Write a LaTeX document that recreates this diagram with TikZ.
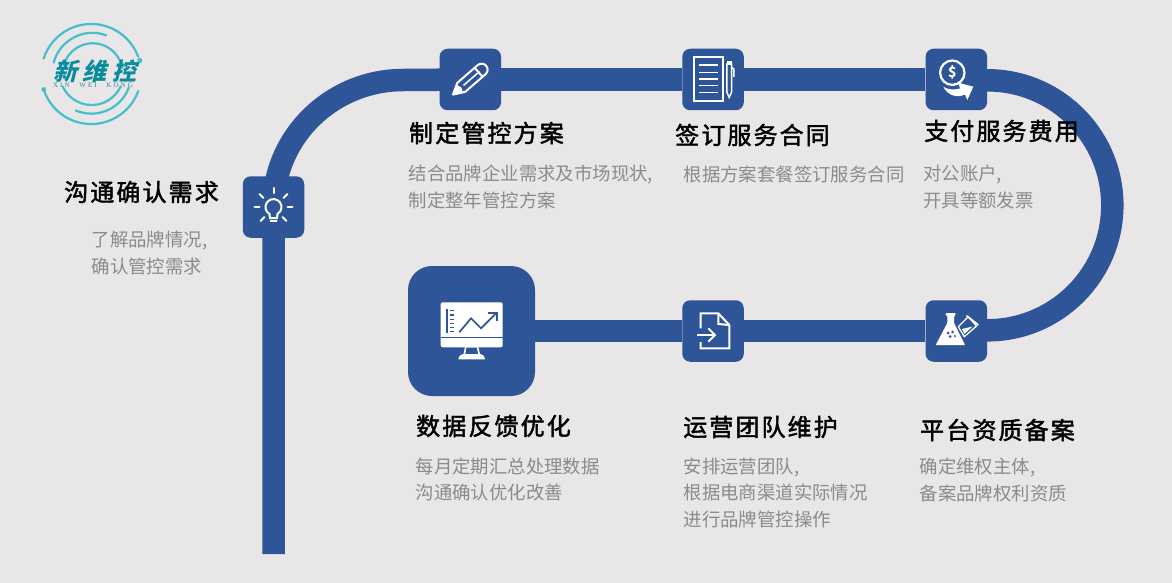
\documentclass[tikz,border=0pt]{standalone}
\usepackage{fontspec}
\usetikzlibrary{backgrounds}
\setmainfont{Noto Sans CJK SC}
\newfontfamily\headfont[LetterSpace=8.8,FakeBold=1.8]{Noto Sans CJK SC}
\newfontfamily\logofont[FakeSlant=0.25,LetterSpace=22]{Noto Sans CJK SC}
\newfontfamily\logolatin[LetterSpace=30,WordSpace=2.5]{Liberation Serif}
\definecolor{pagegray}{HTML}{E8E6E7}
\definecolor{bandblue}{HTML}{2E5597}
\definecolor{descgray}{HTML}{8B8B8B}
\definecolor{logoring}{HTML}{45BFCC}
\definecolor{logotext}{HTML}{0A8C9E}
\tikzset{
  stepbox/.style={fill=bandblue, rounded corners=8pt, minimum width=61.5pt, minimum height=61.5pt, inner sep=0pt},
  bigbox/.style={fill=bandblue, rounded corners=24pt, minimum width=127pt, minimum height=130pt, inner sep=0pt},
  band/.style={draw=bandblue, line width=22.5pt},
  headtext/.style={anchor=west, inner sep=0pt, font=\headfont\fontsize{24}{28}\selectfont},
  desctext/.style={anchor=west, inner sep=0pt, align=left, text=descgray, font=\fontsize{18.4}{26.4}\selectfont},
  iconline/.style={draw=white, line width=2pt},
  ring/.style={draw=logoring, line width=2.2pt, line cap=round},
}
\begin{document}
\begin{tikzpicture}[x=1pt,y=1pt]
\useasboundingbox (0,0) rectangle (1172,-583);
% steps
\node[stepbox] (need) at (273.5,-207) {};
\node[stepbox] (plan) at (470.3,-79.5) {};
\node[stepbox] (sign) at (713,-79.5) {};
\node[stepbox] (pay) at (956.3,-79.5) {};
\node[stepbox] (file) at (956.3,-331) {};
\node[stepbox] (run) at (713,-331) {};
\node[bigbox] (report) at (471.5,-331) {};
\coordinate (tail) at (273.5,-554);
% band behind the steps
\begin{pgfonlayer}{background}
\fill[pagegray] (0,0) rectangle (1172,-583);
\path[band] (tail) -- (need.center) arc[start angle=180, end angle=90, x radius=130, y radius=127] -- (plan.center);
\path[band] (plan) -- (sign);
\path[band] (sign) -- (pay);
\path[band] (pay.center) -- ++(31,-0.8) arc[start angle=90, end angle=-90, radius=125] -- (file.center);
\path[band] (file) -- (run);
\path[band] (run) -- (report);
\end{pgfonlayer}
% bulb
\begin{scope}[shift={(need.center)}, iconline, line cap=round]
\draw (0,19)--(0,14);
\draw (-19,0)--(-14,0);
\draw (14,0)--(19,0);
\draw (-14,13)--(-10,9);
\draw (14,13)--(10,9);
\draw (-13,-14)--(-9,-10);
\draw (13,-14)--(9,-10);
\draw (-4,-7) arc[start angle=240, end angle=-60, radius=8] -- (3.5,-11) -- (-3.5,-11) -- cycle;
\draw (-3,-14)--(3,-14);
\end{scope}
% pencil
\begin{scope}[shift={(plan.center)}, rotate=41, iconline, line join=round]
\draw (-12,6) -- (15,6) arc[start angle=90, end angle=-90, radius=6] -- (-12,-6) -- (-23,0) -- cycle;
\draw[line width=1.5pt] (-9,0) -- (12,0);
\draw (11,6) -- (11,-6);
\fill[white] (-23,0) -- (-14,5) -- (-12,0) -- (-14,-5) -- cycle;
\end{scope}
% contract
\draw[iconline] (693.5,-57.5) rectangle (723.3,-100.7);
\foreach \liney in {65,72.3,79,85.7,92.7}
  \draw[iconline, line width=1.5pt] (698.5,-\liney) -- (718,-\liney);
\draw[iconline, line width=1.4pt, fill=bandblue] (726.8,-64) -- (731.6,-64) -- (731.6,-92) -- (729.2,-97.5) -- (726.8,-92) -- cycle;
\fill[white] (726.8,-61) rectangle (731.6,-65);
\draw[iconline, line width=1.4pt] (731.6,-67.5) -- (733.8,-69) -- (733.8,-77);
% coin
\draw[iconline, line width=2.2pt] (952.3,-72.7) circle[radius=12.2];
\node[inner sep=0pt, text=white, font=\bfseries\fontsize{14}{14}\selectfont] (dollar) at (952.3,-72.7) {\$};
\fill[white] (943.3,-86.7) .. controls (948,-90) and (955,-90) .. (960,-88.5) -- (958.3,-82.7) -- (973.3,-86.7) -- (967.3,-100) -- (965,-94.5) .. controls (957,-98) and (948,-96) .. cycle;
% flask
\fill[white, rounded corners=1pt] (945.7,-313) -- (955.7,-313) -- (955.7,-315.5) -- (954,-315.5) -- (954,-323) -- (965.2,-345.2) -- (935.6,-345.2) -- (947.3,-323) -- (947.3,-315.5) -- (945.7,-315.5) -- cycle;
\fill[bandblue] (948,-333) circle[radius=1.5] (952.5,-332) circle[radius=1.5] (950,-336.5) circle[radius=1.5] (955,-336) circle[radius=1.2];
\draw[iconline, line width=1.3pt, line join=round] (958.3,-326.7) -- (968.3,-316.7) -- (976.5,-326) -- (964.3,-336.7) -- cycle;
\fill[white] (962,-329) -- (972.5,-326.5) -- (964.3,-334) -- cycle;
\draw[iconline, line width=1.8pt] (966.5,-315.7) -- (978.3,-325);
% document with arrow
\draw[iconline] (700.7,-328.3) -- (700.7,-313.3) -- (718.3,-313.3) -- (729.3,-325) -- (729.3,-348.3) -- (700.7,-348.3) -- (700.7,-342);
\draw[iconline] (718.3,-313.3) -- (718.3,-324) -- (729.3,-325);
\draw[iconline] (697.3,-335) -- (715,-335);
\draw[iconline] (708.3,-328.3) -- (715,-335) -- (708.3,-341.7);
% monitor
\fill[white, rounded corners=2pt] (440.7,-302.3) rectangle (502.7,-347.3);
\fill[bandblue] (440.7,-337.1) rectangle (502.7,-338.3);
\fill[white] (465,-347) -- (478.3,-347) -- (480,-354) .. controls (484,-355) and (485,-357) .. (485,-359.3) -- (458.3,-359.3) .. controls (458.3,-357) and (459.5,-355) .. (463.5,-354) -- cycle;
\fill[bandblue] (466.5,-347.6) -- (476.8,-347.6) -- (478,-353.8) -- (465.3,-353.8) -- cycle;
\draw[bandblue, line width=1.8pt] (446.7,-309) -- (446.7,-333.3);
\foreach \ticky in {310.7,315,319.3,323.3,327.7,331.7}
  \draw[bandblue, line width=1.4pt] (449.5,-\ticky) -- (454,-\ticky);
\draw[bandblue, line width=1.7pt] (459.3,-332.3) -- (471,-318.3) -- (481,-328.3) -- (496.7,-312.7);
\draw[bandblue, line width=1.7pt] (488.3,-312.7) -- (496.7,-312.7) -- (496.7,-321);
% logo
\begin{scope}[shift={(91.7,-73.5)}]
\draw[ring] (-48,15) arc[start angle=162, end angle=20, radius=50];
\draw[ring] (-48,-16) arc[start angle=198, end angle=340, radius=50];
\draw[ring] (-38,11) arc[start angle=165, end angle=70, radius=40];
\draw[ring] (-16,-37) arc[start angle=247, end angle=340, radius=40];
\draw[ring] (-28,8) arc[start angle=165, end angle=10, radius=30];
\draw[ring] (-29,-13) arc[start angle=205, end angle=335, radius=32];
\fill[logoring] (48,13) circle[radius=2.6];
\fill[logoring] (-48,-16) circle[radius=2.4];
\end{scope}
\node[inner sep=0pt, text=logotext, font=\logofont\bfseries\fontsize{24}{24}\selectfont] (brand) at (95,-71.5) {新维控};
\node[inner sep=0pt, text=logotext!45!gray, font=\logolatin\fontsize{7}{7}\selectfont] (pinyin) at (93,-85.7) {XIN WEI KONG};
% labels
\node[headtext] (needhead) at (64,-192) {沟通确认需求};
\node[desctext] (needdesc) at (91.5,-253) {了解品牌情况,\\确认管控需求};
\node[headtext] (planhead) at (409,-133) {制定管控方案};
\node[desctext] (plandesc) at (408.5,-187) {结合品牌企业需求及市场现状,\\制定整年管控方案};
\node[headtext] (signhead) at (675,-135) {签订服务合同};
\node[desctext] (signdesc) at (683.5,-174) {根据方案套餐签订服务合同};
\node[headtext] (payhead) at (924,-131) {支付服务费用};
\node[desctext] (paydesc) at (923,-187) {对公账户,\\开具等额发票};
\node[headtext] (filehead) at (920,-430) {平台资质备案};
\node[desctext] (filedesc) at (919.5,-480) {确定维权主体,\\备案品牌权利资质};
\node[headtext] (runhead) at (683,-427) {运营团队维护};
\node[desctext] (rundesc) at (683.5,-493) {安排运营团队,\\根据电商渠道实际情况\\进行品牌管控操作};
\node[headtext] (reporthead) at (416,-426) {数据反馈优化};
\node[desctext] (reportdesc) at (415.5,-479.5) {每月定期汇总处理数据\\沟通确认优化改善};
\end{tikzpicture}
\end{document}
